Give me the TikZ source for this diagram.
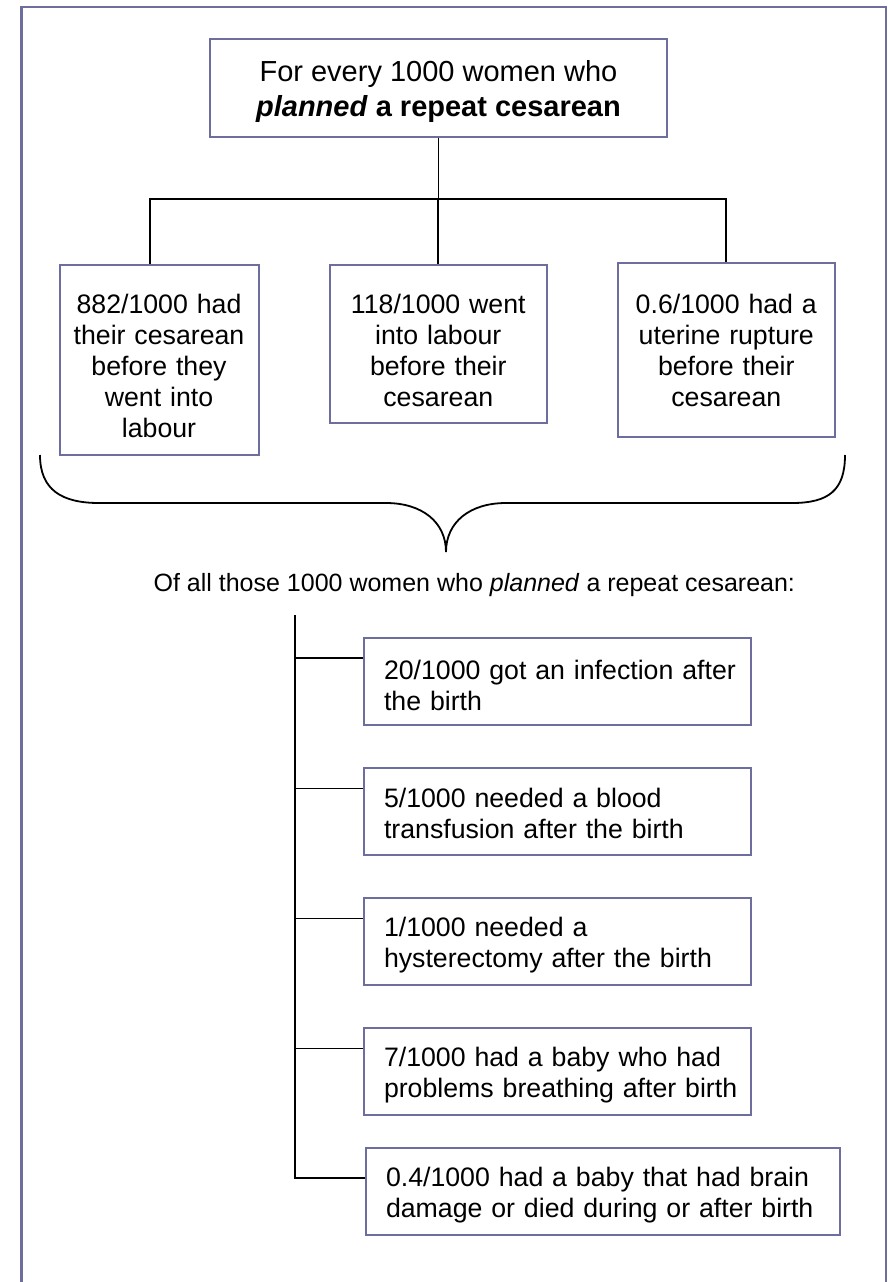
\documentclass[tikz,border=0pt]{standalone}
\usepackage{fontspec}
\setmainfont{Liberation Sans}
\definecolor{framecol}{HTML}{6E6E9E}
\newcommand{\upstrut}[1]{\rule{0pt}{#1}}
\begin{document}
\begin{tikzpicture}[x=1pt,y=-1pt,
  boxline/.style={draw=framecol, line width=2pt},
  topbox/.style={boxline, minimum width=457pt, minimum height=98pt, align=center, font=\fontsize{29}{35}\selectfont, inner sep=0pt},
  rowbox/.style={boxline, align=center, font=\fontsize{26.7}{31}\selectfont, inner xsep=8pt, inner ysep=0pt},
  listbox/.style={boxline, align=left, font=\fontsize{26.7}{31}\selectfont, inner xsep=20pt, inner ysep=0pt, minimum height=87pt},
  conn/.style={draw=black, line width=1.8pt}]
\useasboundingbox (0,0) rectangle (888,1282);
\draw[framecol, line width=2.4pt] (21.5,1295) -- (21.5,7) -- (886,7) -- (886,1295);

% top box
\node[topbox] (top) at (438.5,88) {\upstrut{29pt}For every 1000 women who\\\textbf{\textit{planned} a repeat cesarean}};

% three boxes
\node[rowbox, text width=183pt, minimum height=190pt] (b1) at (159,360) {\upstrut{31.5pt}882/1000 had\\their cesarean\\before they\\went into\\labour};
\node[rowbox, text width=200.6pt, minimum height=158pt] (b2) at (438.3,344) {\upstrut{31.5pt}118/1000 went\\into labour\\before their\\cesarean};
\node[rowbox, text width=200.7pt, minimum height=174pt] (b3) at (726.3,350) {0.6/1000 had a\\uterine rupture\\before their\\cesarean};

\coordinate (bar) at (438.5,199);
\draw[conn] (top.south) -- (bar);
\draw[conn] ([xshift=-9pt]b1.north) |- (bar);
\draw[conn] (b3.north) |- (bar);
\draw[conn] (b2.north) -- (b2.north |- bar);

% brace
\draw[conn] (40,455) .. controls (40,490) and (62,503) .. (99,503) -- (386,503)
  .. controls (422,503) and (446,522) .. (446,552)
  .. controls (446,522) and (470,503) .. (506,503) -- (792,503)
  .. controls (829,503) and (845,490) .. (845,455);

% caption
\node[font=\fontsize{25}{30}\selectfont, inner sep=0pt] (cap) at (474.3,585) {Of all those 1000 women who \textit{planned} a repeat cesarean:};

% list boxes
\node[listbox, text width=347pt] (l1) at (557.5,681) {\upstrut{27.5pt}\mbox{20/1000 got an infection after}\\\mbox{the birth}};
\node[listbox, text width=347pt] (l2) at (557.5,811.5) {\upstrut{22.5pt}\mbox{5/1000 needed a blood}\\\mbox{transfusion after the birth}};
\node[listbox, text width=347pt] (l3) at (557.5,941.5) {\upstrut{27.5pt}\mbox{1/1000 needed a}\\\mbox{hysterectomy after the birth}};
\node[listbox, text width=347pt] (l4) at (557.5,1071.5) {\upstrut{27.5pt}\mbox{7/1000 had a baby who had}\\\mbox{problems breathing after birth}};
\node[listbox, text width=434pt] (l5) at (603,1191.5) {\upstrut{27.5pt}\mbox{0.4/1000 had a baby that had brain}\\\mbox{damage or died during or after birth}};

\coordinate (ttop) at (295,615);
\coordinate (p1) at ([yshift=-21.5pt]l1.north west);
\coordinate (p2) at ([yshift=-21.5pt]l2.north west);
\coordinate (p3) at ([yshift=-21.5pt]l3.north west);
\coordinate (p4) at ([yshift=-21.5pt]l4.north west);
\coordinate (p5) at ([yshift=-31pt]l5.north west);
\draw[conn] (ttop) |- (p5);
\foreach \p in {p1,p2,p3,p4}{\draw[conn] (\p) -- (ttop |- \p);}
\end{tikzpicture}
\end{document}
